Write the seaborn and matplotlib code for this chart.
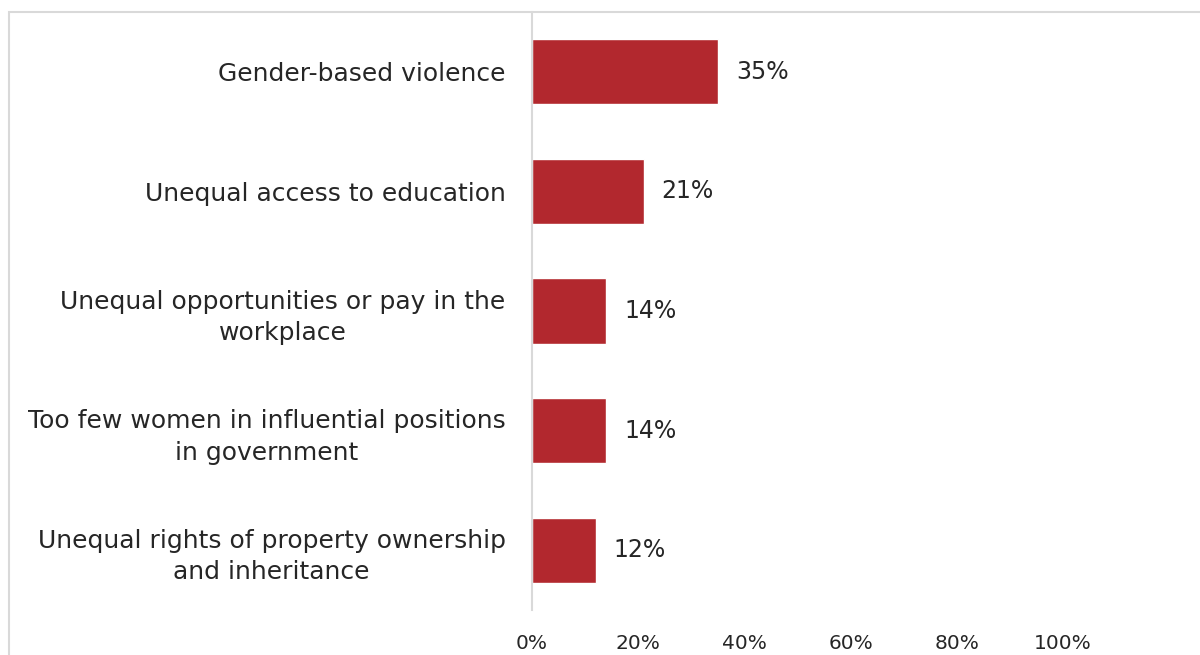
import matplotlib
matplotlib.use("Agg")
import matplotlib.pyplot as plt
from matplotlib.patches import Rectangle
import seaborn as sns
import pandas as pd

# Survey results: share of respondents naming each issue
categories = [
    "Gender-based violence",
    "Unequal access to education",
    "Unequal opportunities or pay in the\nworkplace",
    "Too few women in influential positions\nin government",
    "Unequal rights of property ownership\nand inheritance",
]
shares = [0.35, 0.21, 0.14, 0.14, 0.12]
tick_values = [0.0, 0.2, 0.4, 0.6, 0.8, 1.0]
tick_labels = ["0%", "20%", "40%", "60%", "80%", "100%"]

df = pd.DataFrame({"issue": categories, "share": shares})

sns.set_style("white")
plt.rcParams["font.family"] = ["DejaVu Sans"]

BAR_RED = "#B2282E"
TEXT = "#262626"
RULE = "#D9D9D9"

fig = plt.figure(figsize=(12, 6.55), dpi=100)
ax = fig.add_axes([532 / 1200, 45 / 655, 531 / 1200, 598 / 655])

sns.barplot(data=df, x="share", y="issue", orient="h", color=BAR_RED,
            saturation=1, width=0.545, ax=ax)

ax.set_xlim(0, 1.0)
ax.set_ylim(4.5, -0.5)
ax.set_xticks(tick_values)
ax.set_xticklabels(tick_labels, fontsize=14.5, color=TEXT)
ax.set_xlabel("")
ax.set_ylabel("")
ax.tick_params(axis="x", length=0, pad=17)
ax.tick_params(axis="y", length=0, pad=19)
for lbl in ax.get_yticklabels():
    lbl.set_fontsize(18)
    lbl.set_color(TEXT)
    lbl.set_multialignment("center")
    lbl.set_linespacing(1.4)

for side in ["top", "right", "bottom"]:
    ax.spines[side].set_visible(False)
ax.spines["left"].set_color(RULE)
ax.spines["left"].set_linewidth(1.5)

ax.bar_label(ax.containers[0], labels=[f"{v:.0%}" for v in shares],
             padding=13, fontsize=17, color=TEXT)

# Chart-area frame (extends past the right and bottom edges)
fig.patches.append(Rectangle((9 / 1200, -0.1), 1.2, (655 - 12) / 655 + 0.1,
                             transform=fig.transFigure, fill=False,
                             edgecolor=RULE, linewidth=1.5, zorder=0))

fig.savefig("out.png", dpi=100, facecolor="white")
